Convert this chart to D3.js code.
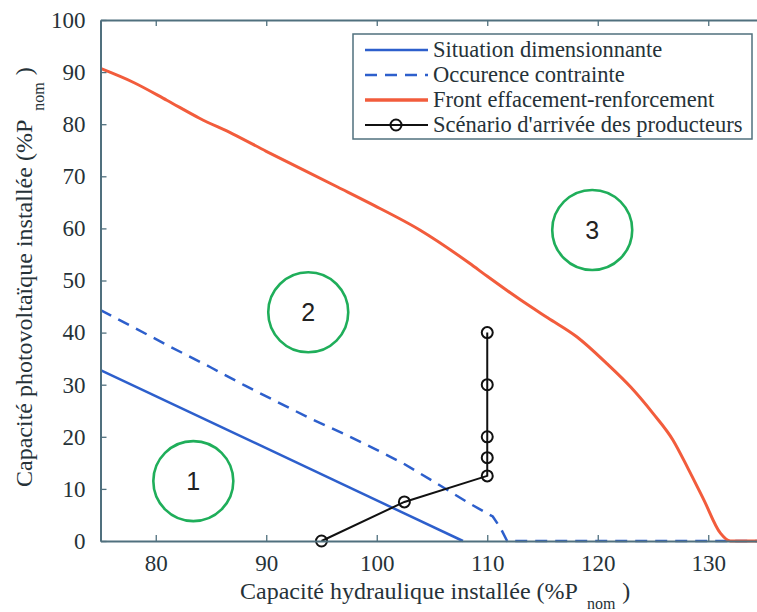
<!DOCTYPE html>
<html><head><meta charset="utf-8">
<script src="https://cdn.jsdelivr.net/npm/d3@7"></script>
<style>body{margin:0;background:#fff}svg{display:block}</style>
</head><body>
<svg id="c" width="757" height="612"></svg>
<script>
// ---- data ----
const xTicks = [80, 90, 100, 110, 120, 130];
const yTicks = [0, 10, 20, 30, 40, 50, 60, 70, 80, 90, 100];
const situationX = [75, 107.8];
const situationY = [32.8, 0];
const occurrenceX = [75, 78, 81.3, 85, 88, 91, 94, 97.3, 100, 102.4, 105, 108.4, 110.5, 111.2, 111.8, 135];
const occurrenceY = [44.3, 41, 37.3, 33.3, 29.9, 26.7, 23.5, 20.3, 17.5, 14.9, 11.6, 7.2, 4.7, 2.5, 0, 0];
const frontX = [75, 78, 81, 84, 87, 90, 93.4, 96.5, 99.4, 103.9, 108.4, 110, 113, 115.5, 118.1, 120.8, 123, 125, 126.8, 128.2, 129.6, 131.1, 132, 135];
const frontY = [90.7, 88, 84.6, 81.1, 78.1, 74.8, 71.2, 67.9, 64.8, 59.7, 53.3, 50.8, 46.3, 42.8, 39.2, 34.1, 29.5, 24.5, 19.4, 13.8, 7.9, 1.5, 0, 0];
const scenarioX = [95, 102.5, 110, 110, 110, 110, 110];
const scenarioY = [0, 7.5, 12.5, 16, 20, 30, 40];
const regionLabels = ["1", "2", "3"];
const regionX = [83.4, 93.8, 119.5];
const regionY = [11.5, 43.9, 59.7];
const legendLabels = ["Situation dimensionnante", "Occurence contrainte", "Front effacement-renforcement", "Scénario d'arrivée des producteurs"];

// ---- drawing ----
const svg = d3.select("#c");
const L = 100.5, T = 20, B = 541, R = 763.5;
const x = d3.scaleLinear().domain([75, 135]).range([L, R]);
const y = d3.scaleLinear().domain([0, 100]).range([B, T]);
const axisCol = "#50707e";
const serif = "'Liberation Serif', 'Times New Roman', 'DejaVu Serif', serif";
const textCol = "#263238";
const blue = "#2d5fcc", orange = "#f25c3c", green = "#1fae5a";

// region circles
regionLabels.forEach((t, i) => {
  svg.append("circle").attr("cx", x(regionX[i])).attr("cy", y(regionY[i])).attr("r", 40)
    .attr("fill", "none").attr("stroke", green).attr("stroke-width", 2.6);
  svg.append("text").attr("x", x(regionX[i])).attr("y", y(regionY[i]) + 9).attr("text-anchor", "middle")
    .style("font-family", "'Liberation Sans', Arial, sans-serif").style("font-size", "25px").attr("fill", "#222").text(t);
});

const line = d3.line().x(d => x(d[0])).y(d => y(d[1]));
svg.append("clipPath").attr("id", "pc").append("rect").attr("x", L).attr("y", T).attr("width", R - L).attr("height", B - T + 2);
const g = svg.append("g").attr("clip-path", "url(#pc)");
g.append("path").datum(situationX.map((v, i) => [v, situationY[i]])).attr("d", line)
  .attr("fill", "none").attr("stroke", blue).attr("stroke-width", 2.5);
g.append("path").datum(occurrenceX.map((v, i) => [v, occurrenceY[i]])).attr("d", line)
  .attr("fill", "none").attr("stroke", blue).attr("stroke-width", 2.5).attr("stroke-dasharray", "12,8");
g.append("path").datum(frontX.map((v, i) => [v, frontY[i]])).attr("d", line.curve(d3.curveMonotoneX))
  .attr("fill", "none").attr("stroke", orange).attr("stroke-width", 3);
line.curve(d3.curveLinear);
const sc = scenarioX.map((v, i) => [v, scenarioY[i]]);
svg.append("path").datum(sc).attr("d", line).attr("fill", "none").attr("stroke", "#111").attr("stroke-width", 2);
svg.selectAll("circle.pt").data(sc).enter().append("circle").attr("class", "pt")
  .attr("cx", d => x(d[0])).attr("cy", d => y(d[1])).attr("r", 5.5)
  .attr("fill", "none").attr("stroke", "#111").attr("stroke-width", 2);

// axes
const fmtAxis = (sel) => {
  sel.select(".domain").attr("stroke", axisCol).attr("stroke-width", 2);
  sel.selectAll(".tick line").attr("stroke", axisCol).attr("stroke-width", 1.3);
  sel.selectAll("text").style("font-family", serif).style("font-size", "23px").attr("fill", textCol);
};
svg.append("g").attr("transform", `translate(0,${B})`)
  .call(d3.axisBottom(x).tickValues(xTicks).tickSize(-6).tickSizeOuter(0).tickPadding(14))
  .call(fmtAxis);
svg.append("g").attr("transform", `translate(0,${T})`)
  .call(d3.axisTop(x).tickValues(xTicks).tickSize(-6).tickSizeOuter(0).tickFormat(""))
  .call(fmtAxis);
svg.append("g").attr("transform", `translate(${L},0)`)
  .call(d3.axisLeft(y).tickValues(yTicks).tickSize(-6).tickSizeOuter(0).tickPadding(15))
  .call(fmtAxis);

// axis labels
const xl = svg.append("text").attr("x", 240).attr("y", 599).attr("text-anchor", "start")
  .style("font-family", serif).style("font-size", "24px").attr("fill", textCol);
xl.append("tspan").text("Capacité hydraulique installée (%P");
xl.append("tspan").style("font-size", "16px").attr("dx", 9).attr("dy", 10).text("nom");
xl.append("tspan").attr("dx", 7).attr("dy", -10).text(")");
const yl = svg.append("text").attr("transform", "translate(32,487) rotate(-90)").attr("text-anchor", "start")
  .style("font-family", serif).style("font-size", "24px").attr("fill", textCol);
yl.append("tspan").text("Capacité photovoltaïque installée (%P");
yl.append("tspan").style("font-size", "16px").attr("dx", 9).attr("dy", 12).text("nom");
yl.append("tspan").attr("dx", 7).attr("dy", -12).text(")");

// legend
const lg = svg.append("g");
lg.append("rect").attr("x", 353).attr("y", 34).attr("width", 399).attr("height", 105)
  .attr("fill", "#fff").attr("stroke", axisCol).attr("stroke-width", 1.5);
legendLabels.forEach((t, i) => {
  const yy = 50 + i * 25;
  const ln = lg.append("line").attr("x1", 365).attr("x2", 428).attr("y1", yy).attr("y2", yy);
  if (i === 0) ln.attr("stroke", blue).attr("stroke-width", 2.5);
  if (i === 1) ln.attr("stroke", blue).attr("stroke-width", 2.5).attr("stroke-dasharray", "12,8");
  if (i === 2) ln.attr("stroke", orange).attr("stroke-width", 3.5);
  if (i === 3) {
    ln.attr("stroke", "#111").attr("stroke-width", 2);
    lg.append("circle").attr("cx", 396).attr("cy", yy).attr("r", 5.5).attr("fill", "none").attr("stroke", "#111").attr("stroke-width", 2);
  }
  lg.append("text").attr("x", 433).attr("y", yy + 7).style("font-family", serif).style("font-size", "22.5px")
    .attr("fill", textCol).text(t);
});
</script>
</body></html>
